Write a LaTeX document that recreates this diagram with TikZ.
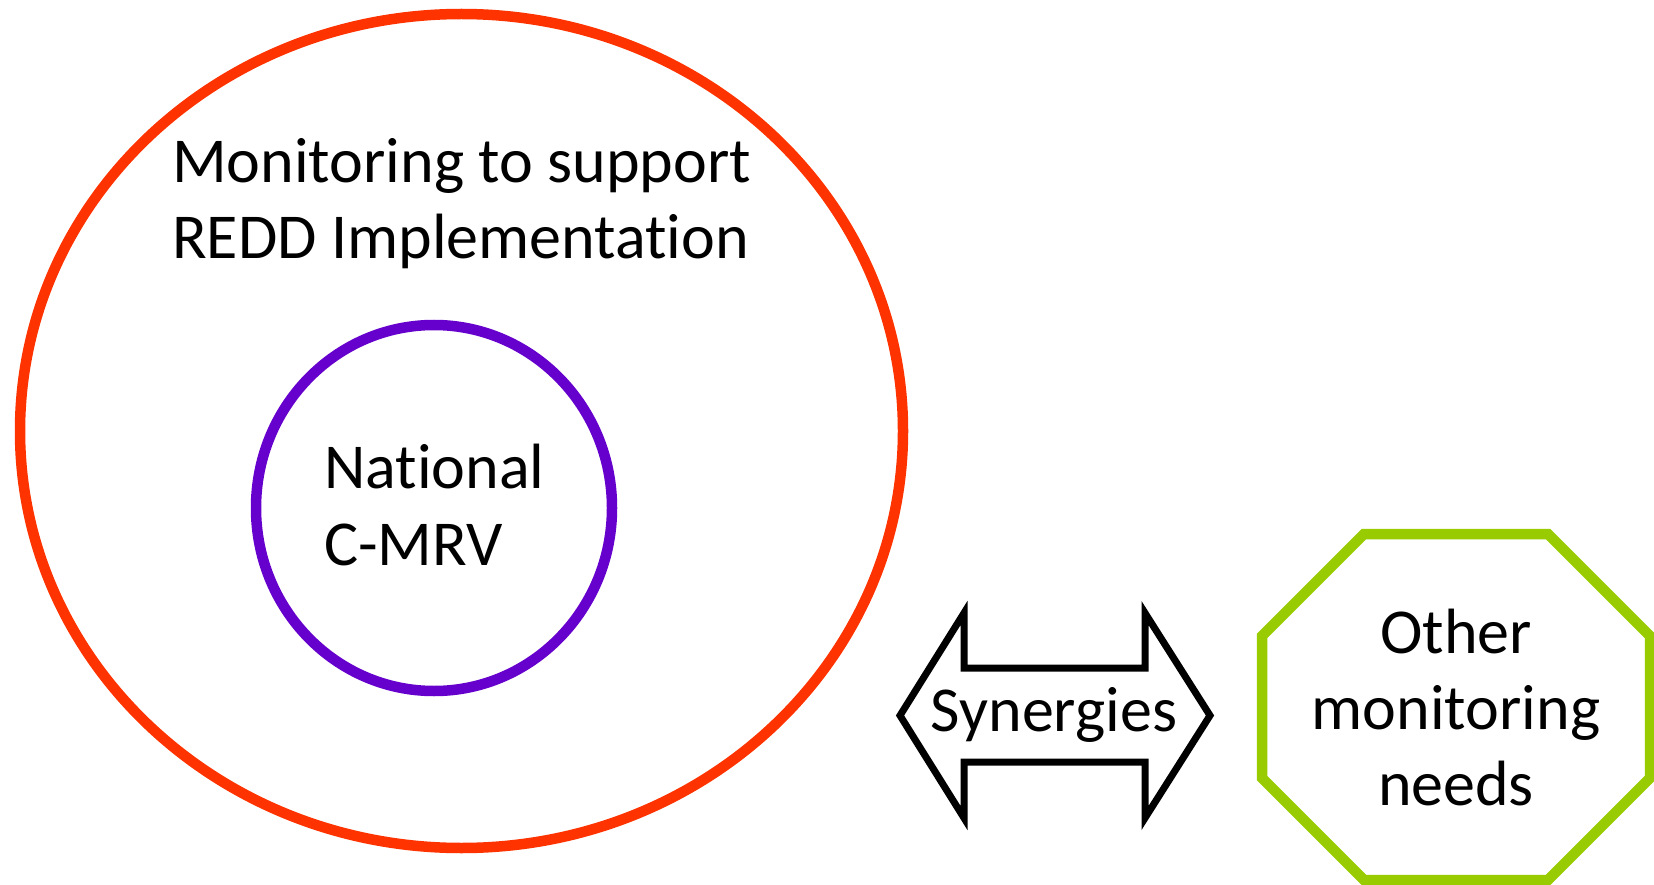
\documentclass[tikz,border=0pt]{standalone}
\usepackage{fontspec}
\setmainfont{Carlito}[RawFeature={-liga;-dlig;-clig}]
\usetikzlibrary{shapes.geometric}
\definecolor{outerred}{HTML}{FF3300}
\definecolor{innerpurple}{HTML}{6600CC}
\definecolor{octgreen}{HTML}{99CC00}
\begin{document}
\begin{tikzpicture}[x=1pt,y=-1pt,
  bigtext/.style={inner sep=0pt,font=\fontsize{64}{76}\selectfont},
  ringline/.style={line width=10.5pt}]
\useasboundingbox (0,0) rectangle (1654,885);
% outer ellipse
\node[ellipse,draw=outerred,ringline,minimum width=883pt,minimum height=834pt,inner sep=0pt] (outer) at (461.5,431) {};
% inner circle
\node[ellipse,draw=innerpurple,ringline,minimum width=356pt,minimum height=366pt,inner sep=0pt] (inner) at (434,508) {};
% octagon
\draw[octgreen,line width=10.5pt,line join=miter]
  (1364,534) -- (1548,534) -- (1650,636) -- (1650,778) -- (1548,880) -- (1364,880) -- (1262,778) -- (1262,636) -- cycle;
% double arrow
\draw[black,line width=7pt,line join=miter,miter limit=10]
  (900,715.5) -- (964,613) -- (964,668) -- (1145,668) -- (1145,613) -- (1210,715.5)
  -- (1145,818) -- (1145,762) -- (964,762) -- (964,818) -- cycle;
% texts
\node[bigtext,anchor=base west] (t1) at (172,183) {Monitoring to support};
\node[bigtext,anchor=base west] (t2) at (172,259) {REDD Implementation};
\node[bigtext,anchor=base west] (n1) at (324,488) {National};
\node[bigtext,anchor=base west] (n2) at (324,565) {C-MRV};
\node[bigtext,anchor=base] (syn) at (1054,731) {Synergies};
\node[bigtext,anchor=base] (o1) at (1456,653) {Other};
\node[bigtext,anchor=base] (o2) at (1456,729) {monitoring};
\node[bigtext,anchor=base] (o3) at (1456,805) {needs};
\end{tikzpicture}
\end{document}
